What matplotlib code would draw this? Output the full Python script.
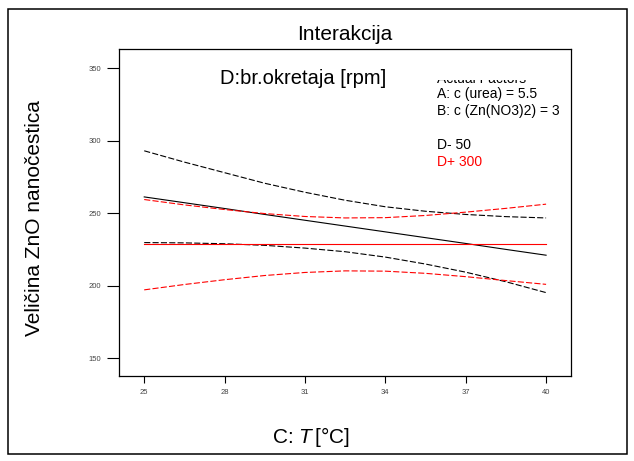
import matplotlib
matplotlib.use("Agg")
import matplotlib.pyplot as plt
from matplotlib.patches import Rectangle
from matplotlib.transforms import Bbox, TransformedBbox

plt.rcParams['font.family'] = ['Liberation Sans', 'DejaVu Sans']
plt.rcParams['mathtext.fontset'] = 'custom'
plt.rcParams['mathtext.rm'] = 'Liberation Sans'
plt.rcParams['mathtext.it'] = 'Liberation Sans:italic'

# C: temperature [°C]
temp = [25, 26.5, 28, 29.5, 31, 32.5, 34, 35.5, 37, 38.5, 40]

# D- 50 rpm : prediction and 95% CI
d50_mean = [261.3, 257.3, 253.3, 249.2, 245.2, 241.2, 237.2, 233.2, 229.2, 225.1, 221.1]
d50_upper = [293.1, 285.3, 278.0, 270.7, 264.5, 259.0, 254.5, 251.4, 249.2, 247.7, 246.8]
d50_lower = [229.8, 229.6, 229.0, 227.9, 226.0, 223.5, 219.8, 215.0, 209.4, 202.8, 195.3]

# D+ 300 rpm : prediction and 95% CI
d300_mean = [228.5, 228.5, 228.5, 228.5, 228.5, 228.5, 228.5, 228.5, 228.5, 228.5, 228.5]
d300_upper = [259.5, 255.8, 252.6, 249.8, 247.8, 246.8, 247.0, 248.5, 250.8, 253.4, 256.3]
d300_lower = [197.2, 200.9, 204.2, 207.1, 209.2, 210.3, 210.1, 208.6, 206.3, 203.6, 201.0]

xticks = [25, 28, 31, 34, 37, 40]
yticks = [150, 200, 250, 300, 350]

W, H = 634, 461
fig = plt.figure(figsize=(W / 100, H / 100), dpi=100)
ax = fig.add_axes([118.5 / W, 1 - 376 / H, (571 - 118.5) / W, (376 - 49) / H])

dash = (5.5, 2.0)
ax.plot(temp, d50_mean, color='black', lw=0.8)
ax.plot(temp, d50_upper, color='black', lw=0.8, dashes=dash)
ax.plot(temp, d50_lower, color='black', lw=0.8, dashes=dash)
ax.plot(temp, d300_mean, color='red', lw=0.8)
ax.plot(temp, d300_upper, color='red', lw=0.8, dashes=dash)
ax.plot(temp, d300_lower, color='red', lw=0.8, dashes=dash)

ax.set_xlim(24.04, 40.93)
ax.set_ylim(137.8, 363.3)
ax.set_xticks(xticks)
ax.set_yticks(yticks)
ax.tick_params(axis='y', direction='out', length=8.6, width=0.8, pad=4,
               labelsize=5.5, labelcolor='#444444')
ax.tick_params(axis='x', direction='out', length=5, width=0.8, pad=4,
               labelsize=5.5, labelcolor='#444444')
for s in ax.spines.values():
    s.set_linewidth(0.9)

fig.text(345 / W, 1 - 34 / H, 'Interakcija', ha='center', va='center', fontsize=15)
fig.text(35 / W, 1 - 218 / H, 'Veličina ZnO nanočestica', ha='center', va='center',
         rotation=90, fontsize=15)
fig.text(311 / W, 1 - 437 / H, r'C: $\mathit{T}\,$[°C]', ha='center', va='center',
         fontsize=15)
fig.text(303 / W, 1 - 78 / H, 'D:br.okretaja [rpm]', ha='center', va='center', fontsize=14.5)

# legend block (first line is cut off at the top)
t = fig.text(437 / W, 1 - 83 / H, 'Actual Factors', ha='left', va='baseline', fontsize=10)
t.set_clip_box(TransformedBbox(Bbox.from_extents(0, 0, 1, 1 - 80.5 / H), fig.transFigure))
t.set_clip_on(True)
fig.text(437 / W, 1 - 94 / H, 'A: c (urea) = 5.5', ha='left', va='center', fontsize=10)
fig.text(437 / W, 1 - 111 / H, 'B: c (Zn(NO3)2) = 3', ha='left', va='center', fontsize=10)
fig.text(437 / W, 1 - 145 / H, 'D- 50', ha='left', va='center', fontsize=10, color='black')
fig.text(437 / W, 1 - 162.5 / H, 'D+ 300', ha='left', va='center', fontsize=10, color='red')

# outer frame
fig.patches.append(Rectangle((8 / W, 1 - 454 / H), (627 - 8) / W, (454 - 9) / H,
                             transform=fig.transFigure, fill=False, lw=1.1,
                             edgecolor='black'))

fig.savefig('out.png', dpi=100)
